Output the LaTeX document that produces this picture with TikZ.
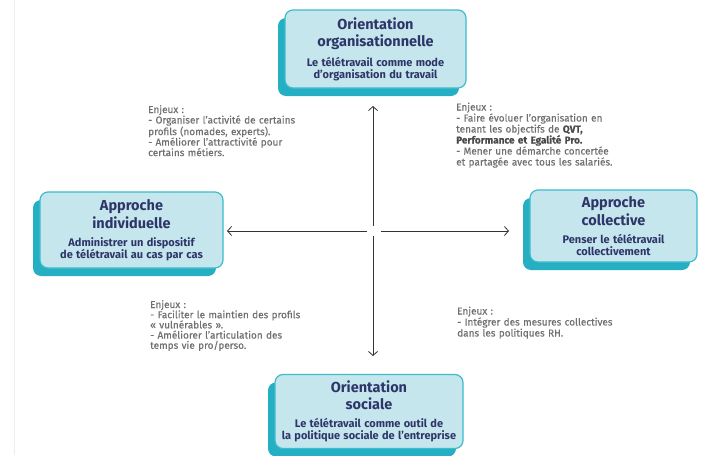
\documentclass[tikz,border=0pt]{standalone}
\usepackage{fontspec}
\setmainfont{Fira Sans}
\newfontfamily\enjf[FakeBold=0.35]{Fira Sans}
\usetikzlibrary{shadows,arrows.meta}
\definecolor{boxfill}{HTML}{C6E6EE}
\definecolor{boxline}{HTML}{3DBCCB}
\definecolor{boxshadow}{HTML}{25AFC2}
\definecolor{navy}{HTML}{2E3568}
\definecolor{enj}{HTML}{707070}
\definecolor{enjb}{HTML}{4A4A4A}
\newcommand{\ttl}{\fontsize{14.5}{17.5}\selectfont\bfseries}
\newcommand{\sbt}{\fontsize{11}{12}\selectfont\bfseries}
\tikzset{
 card/.style={draw=boxline, line width=1.2pt, fill=boxfill, rounded corners=8pt,
   align=center, text=navy, inner sep=0pt,
   drop shadow={shadow xshift=-7pt, shadow yshift=-8pt, opacity=1, fill=boxshadow}},
 enjeux/.style={anchor=north west, align=left, text=enj, inner sep=0pt,
   text width=200pt, font=\enjf\fontsize{10}{10.5}\selectfont},
 axis/.style={draw=black!80, line width=0.8pt, -{Straight Barb[length=4pt,width=9pt]}}
}
\begin{document}
\begin{tikzpicture}[x=1pt,y=-1pt]
\useasboundingbox (0,0) rectangle (701,455);
\fill[white] (0,0) rectangle (701,455);
\draw[black!7, line width=0.8pt] (14,0) -- (14,455);

% cards
\node[card, minimum width=181pt, minimum height=78pt, text width=178pt] (top) at (375.5,49)
  {\ttl Orientation\\organisationnelle\par\vspace{6pt}\sbt Le télétravail comme mode\\d’organisation du travail};
\node[card, minimum width=183pt, minimum height=76pt, text width=180pt] (left) at (131.5,230)
  {\ttl Approche\\individuelle\par\vspace{6pt}\sbt Administrer un dispositif\\de télétravail au cas par cas};
\node[card, minimum width=167pt, minimum height=72pt, text width=164pt] (right) at (613.5,226)
  {\ttl Approche\\collective\par\vspace{6pt}\sbt Penser le télétravail\\collectivement};
\node[card, minimum width=188pt, minimum height=74pt, text width=186pt] (bottom) at (369,411.5)
  {\ttl Orientation\\sociale\par\vspace{6pt}\sbt Le télétravail comme outil de\\la politique sociale de l’entreprise};

% enjeux
\node[enjeux] (etl) at (148,105) {Enjeux :\\- Organiser l’activité de certains\\profils (nomades, experts).\\- Améliorer l’attractivité pour\\certains métiers.};
\node[enjeux, font=\enjf\fontsize{10}{11}\selectfont] (etr) at (456,102.5) {Enjeux :\\- Faire évoluer l’organisation en\\tenant les objectifs de {\color{enjb}\bfseries QVT,}\\{\color{enjb}\bfseries Performance et Egalité Pro.}\\- Mener une démarche concertée\\et partagée avec tous les salariés.};
\node[enjeux, font=\enjf\fontsize{10}{10.2}\selectfont] (ebl) at (150,300) {Enjeux :\\- Faciliter le maintien des profils\\« vulnérables ».\\- Améliorer l’articulation des\\temps vie pro/perso.};
\node[enjeux, font=\enjf\fontsize{10}{11}\selectfont] (ebr) at (457,306.5) {Enjeux :\\- Intégrer des mesures collectives\\dans les politiques RH.};

% axes
\coordinate (cu) at (373,226);
\coordinate (cd) at (373,236);
\coordinate (cl) at (367,231);
\coordinate (cr) at (381,231);
\coordinate (au) at (373,106);
\coordinate (ad) at (373,356);
\coordinate (al) at (227,231);
\coordinate (ar) at (509,231);
\draw[axis] (cu) -- (au);
\draw[axis] (cd) -- (ad);
\draw[axis] (cl) -- (al);
\draw[axis] (cr) -- (ar);
\end{tikzpicture}
\end{document}
